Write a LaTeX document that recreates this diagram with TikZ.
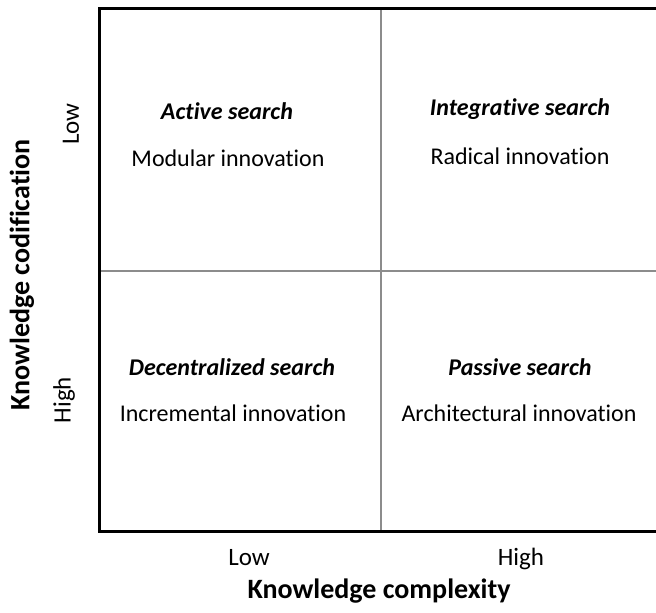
\documentclass[tikz,border=0pt]{standalone}
\usepackage{fontspec}
\setmainfont{Carlito}[RawFeature={-liga;-clig;-dlig;-calt}]
\begin{document}
\begin{tikzpicture}[x=0.5pt,y=-0.5pt]
\tikzset{
  frame/.style={line width=1.5pt},
  divider/.style={line width=0.7pt, draw=black!45},
  head/.style={font=\fontsize{12}{14}\selectfont\bfseries\itshape},
  kind/.style={font=\fontsize{12}{14}\selectfont},
  level/.style={font=\fontsize{12.5}{15}\selectfont},
  axis/.style={font=\fontsize{14}{17}\selectfont\bfseries}
}
\useasboundingbox (0,0) rectangle (656,613);
% frame and the two dividing lines
\coordinate (tl) at (99,9);
\coordinate (bl) at (99,531);
\coordinate (tr) at (660,9);
\coordinate (br) at (660,531);
\coordinate (mt) at (381,9);
\coordinate (mb) at (381,531);
\coordinate (ml) at (99,271);
\coordinate (mr) at (660,271);
\draw[divider] (mt)--(mb)(ml)--(mr);
\draw[frame] (tr)--(tl)--(bl)--(br);
% quadrants
\node[head](as) at (227,111){Active search};
\node[kind](mi) at (228,158){Modular innovation};
\node[head](is) at (520,109){Integrative search};
\node[kind](ri) at (520,156){Radical innovation};
\node[head](ds) at (232,367){Decentralized search};
\node[kind](ii) at (233,413){Incremental innovation};
\node[head](ps) at (520,367){Passive search};
\node[kind](ai) at (519,413){Architectural innovation};
% axes
\node[level,rotate=90](ylow) at (71,124){Low};
\node[level,rotate=90](yhigh) at (64,400){High};
\node[axis,rotate=90](ycod) at (22,275){Knowledge codification};
\node[level](xlow) at (249,558){Low};
\node[level](xhigh) at (521,559){High};
\node[axis](xcom) at (379,591){Knowledge complexity};
\end{tikzpicture}
\end{document}
